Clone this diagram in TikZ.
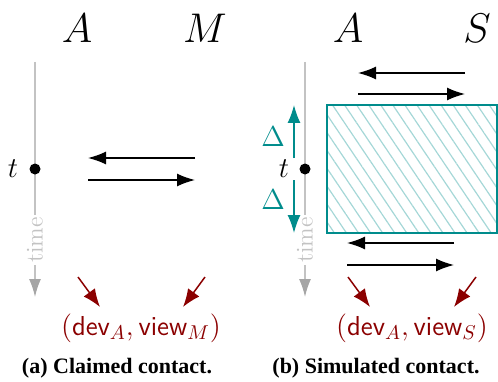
\documentclass[tikz,border=0pt]{standalone}
\usepackage{amsmath,amssymb}
\usepackage{xcolor}
\usepackage{fontspec}
\newfontfamily\capfont{Liberation Serif}
\usepackage{tikz}
\usetikzlibrary{arrows.meta,patterns.meta}
\definecolor{figtime}{RGB}{195,195,195}
\definecolor{figtip}{RGB}{165,165,165}
\definecolor{figteal}{RGB}{0,140,140}
\definecolor{fighatch}{RGB}{165,215,215}
\definecolor{figred}{RGB}{139,0,0}
\tikzset{
  msg/.style  ={draw=black, line width=0.75pt, -{Latex[length=9pt,width=6.5pt]}},
  tl/.style   ={draw=figtime, line width=0.75pt, -{Latex[length=9pt,width=6pt,color=figtip]}},
  win/.style  ={draw=figteal, line width=0.75pt, -{Latex[length=9pt,width=6.5pt]}},
  rp/.style   ={draw=figred, line width=0.75pt, -{Latex[length=9pt,width=7pt]}},
  hd/.style   ={font=\huge, inner sep=1pt},
  lab/.style  ={font=\Large, inner sep=1pt},
  dlt/.style  ={font=\Large, text=figteal, inner sep=1pt},
  tm/.style   ={font=\fontsize{12}{14}\selectfont, text=figtime, fill=white, rotate=90, inner sep=1pt},
  dotc/.style ={circle, fill=black, minimum size=5.5pt, inner sep=0pt},
  res/.style  ={font=\fontsize{13.7}{16}\selectfont, text=figred, inner sep=1pt},
  capt/.style ={font=\capfont\fontsize{11}{13}\selectfont\bfseries, inner sep=1pt},
  hbox/.style ={draw=figteal, line width=0.6pt,
                pattern={Lines[angle=-56,distance=5pt,line width=0.6pt]},
                pattern color=fighatch},
}
\begin{document}
\begin{tikzpicture}[x=0.5pt,y=0.5pt]
  \useasboundingbox (0,0) rectangle (498,381);
  % (a) claimed contact
  \node[hd] (pa) at (77,353) {$A$};
  \node[hd] (pm) at (205,353) {$M$};
  \coordinate (ta0) at (35,319);
  \coordinate (ta1) at (35,84);
  \draw[tl] (ta0) -- (ta1);
  \node[tm] (tma) at (35,141) {time};
  \node[dotc] (da) at (35,212) {};
  \node[lab] (lta) at (13,212) {$t$};
  \coordinate (ma0) at (195,223);
  \coordinate (ma1) at (88,223);
  \coordinate (ma2) at (88,201);
  \coordinate (ma3) at (195,201);
  \draw[msg] (ma0) -- (ma1);
  \draw[msg] (ma2) -- (ma3);
  \node[res] (ra) at (141,53) {$(\textsf{dev}_A,\textsf{view}_M)$};
  \coordinate (ra0) at (78,104);
  \coordinate (ra1) at (100,74);
  \coordinate (ra2) at (205,104);
  \coordinate (ra3) at (183,74);
  \draw[rp] (ra0) -- (ra1);
  \draw[rp] (ra2) -- (ra3);
  \node[capt] (ca) at (117,13) {(a) Claimed contact.};
  % (b) simulated contact
  \node[hd] (pb) at (348,353) {$A$};
  \node[hd] (ps) at (477,353) {$S$};
  \coordinate (tb0) at (305,319);
  \coordinate (tb1) at (305,84);
  \draw[tl] (tb0) -- (tb1);
  \node[tm] (tmb) at (305,141) {time};
  \path[hbox] (327,148) rectangle (497,276);
  \coordinate (wb0) at (294,223);
  \coordinate (wb1) at (294,276);
  \coordinate (wb2) at (294,201);
  \coordinate (wb3) at (294,148);
  \draw[win] (wb0) -- (wb1);
  \draw[win] (wb2) -- (wb3);
  \node[dlt] (dl0) at (273,244) {$\Delta$};
  \node[dlt] (dl1) at (273,181) {$\Delta$};
  \node[dotc] (db) at (305,212) {};
  \node[lab] (ltb) at (284,212) {$t$};
  \coordinate (mb0) at (465,308);
  \coordinate (mb1) at (358,308);
  \coordinate (mb2) at (358,287);
  \coordinate (mb3) at (465,287);
  \draw[msg] (mb0) -- (mb1);
  \draw[msg] (mb2) -- (mb3);
  \coordinate (mb4) at (454,138);
  \coordinate (mb5) at (347,138);
  \coordinate (mb6) at (347,116);
  \coordinate (mb7) at (454,116);
  \draw[msg] (mb4) -- (mb5);
  \draw[msg] (mb6) -- (mb7);
  \node[res] (rb) at (412,53) {$(\textsf{dev}_A,\textsf{view}_S)$};
  \coordinate (rb0) at (348,104);
  \coordinate (rb1) at (370,74);
  \coordinate (rb2) at (476,104);
  \coordinate (rb3) at (454,74);
  \draw[rp] (rb0) -- (rb1);
  \draw[rp] (rb2) -- (rb3);
  \node[capt] (cb) at (376,13) {(b) Simulated contact.};
\end{tikzpicture}
\end{document}
